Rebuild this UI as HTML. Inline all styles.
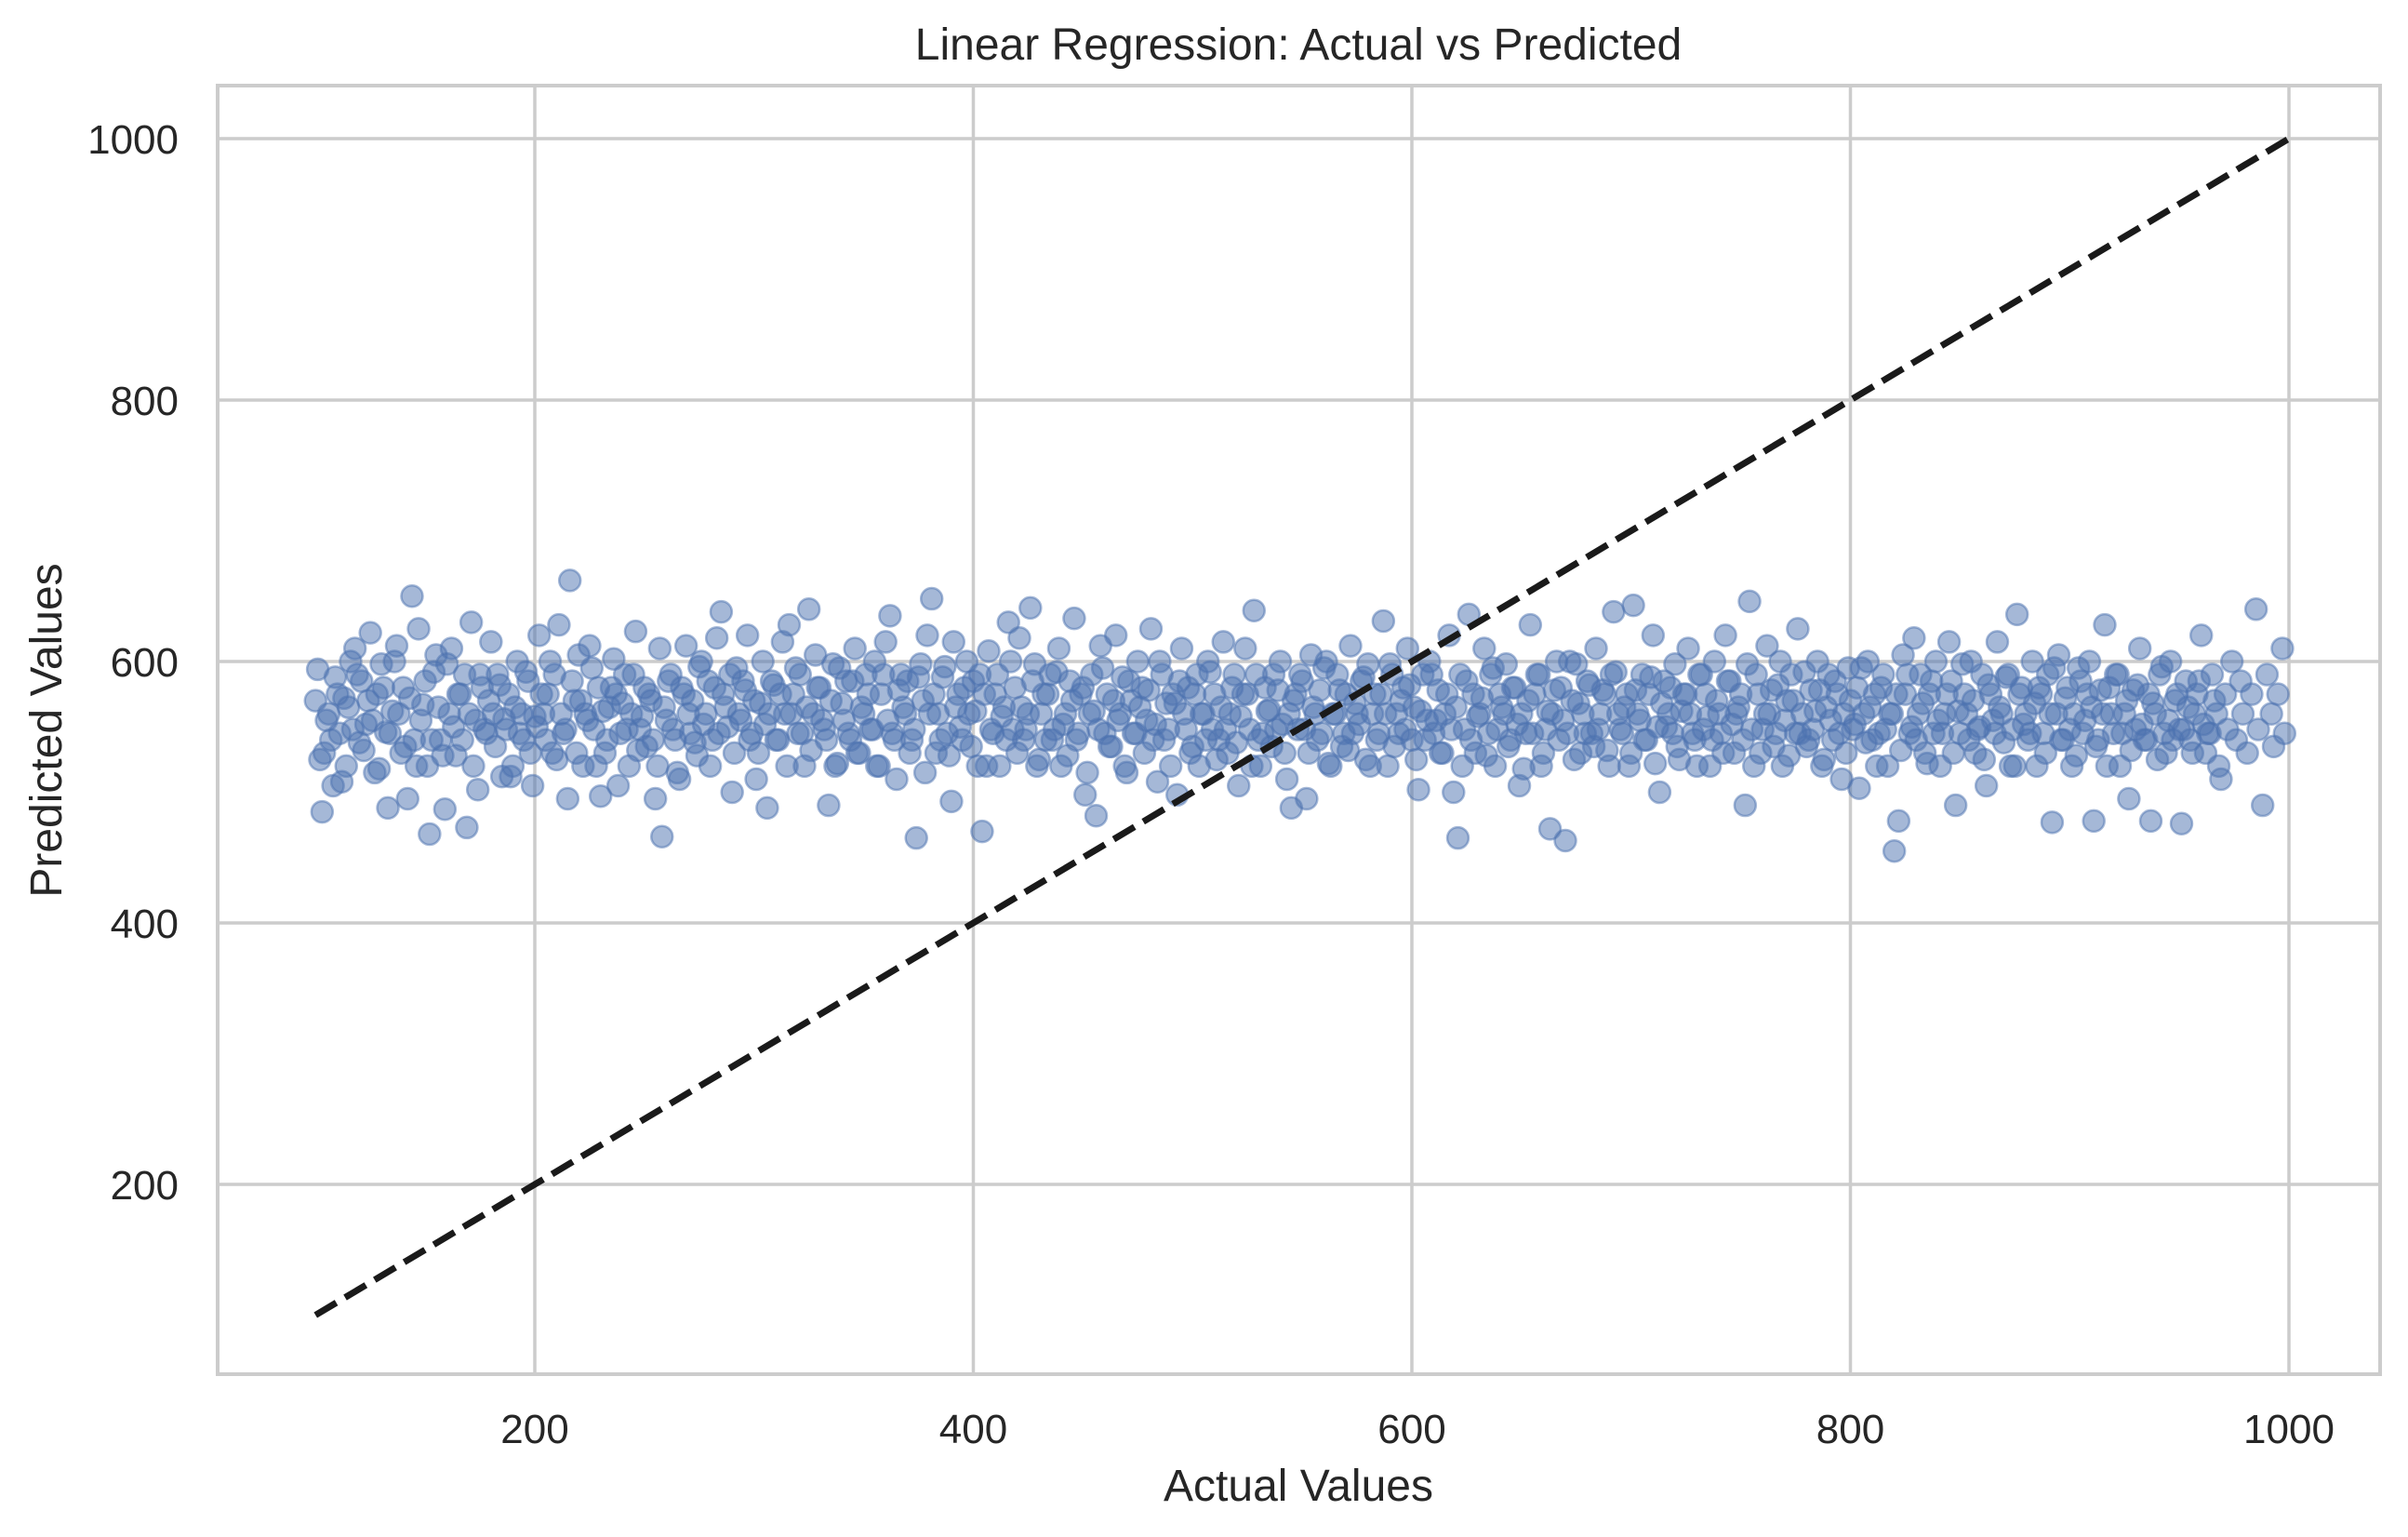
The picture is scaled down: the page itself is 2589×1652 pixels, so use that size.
<!DOCTYPE html>
<html><head><meta charset="utf-8"><title>Linear Regression: Actual vs Predicted</title>
<style>
html,body{margin:0;padding:0;background:#fff;}
svg{display:block;font-family:"Liberation Sans",Arial,sans-serif;}
</style></head>
<body>
<svg id="chart" width="2589" height="1652" viewBox="0 0 2589 1652" xmlns="http://www.w3.org/2000/svg">
<rect x="0" y="0" width="2589" height="1652" fill="#ffffff"/>
<g id="grid"></g>
<g id="points"></g>
<g id="ideal"></g>
<rect x="234" y="92" width="2325" height="1385" fill="none" stroke="#cccccc" stroke-width="4"/>
<g id="xticks"></g>
<g id="yticks"></g>
<text x="1396" y="64" text-anchor="middle" font-size="48" fill="#262626">Linear Regression: Actual vs Predicted</text>
<text x="1396" y="1613" text-anchor="middle" font-size="48" fill="#262626">Actual Values</text>
<text x="0" y="0" transform="translate(66,785) rotate(-90)" text-anchor="middle" font-size="48" fill="#262626">Predicted Values</text>
</svg>
<script>
const xTicks = [200, 400, 600, 800, 1000];
const yTicks = [200, 400, 600, 800, 1000];
const lineStart = [100, 100];
const lineEnd = [1000, 1000];
const actualX = [100,101,103,104,106,108,109,111,113,114,116,118,120,121,123,125,127,128,130,132,133,135,137,139,140,142,144,145,147,149,151,152,154,155,157,159,161,162,164,166,168,169,171,173,174,176,178,180,181,183,185,187,188,190,192,194,195,197,199,201,202,204,206,208,209,211,213,215,216,218,220,222,223,225,227,229,230,232,234,236,237,239,241,243,244,246,248,250,251,253,255,257,258,260,262,264,265,267,269,271,272,274,276,278,279,281,283,285,286,288,290,292,293,295,297,299,300,302,304,306,307,309,311,313,314,316,318,320,321,323,325,327,328,330,332,334,335,337,339,341,342,344,346,348,349,351,353,355,356,358,360,362,363,365,367,369,370,372,374,376,377,379,381,383,384,386,388,390,391,393,395,397,398,400,402,404,405,407,409,411,412,414,416,418,419,421,423,425,426,428,430,432,433,435,437,439,440,442,444,446,447,449,451,453,454,456,458,460,461,463,465,467,468,470,472,474,475,477,479,481,482,484,486,488,489,491,493,495,496,498,500,502,503,505,507,509,510,512,514,516,517,519,521,523,524,526,528,530,531,533,535,537,538,540,542,544,545,547,549,551,552,554,556,558,559,561,563,565,566,568,570,572,573,575,577,579,580,582,584,586,587,589,591,593,594,596,598,600,601,603,605,607,608,610,612,614,615,617,619,621,622,624,626,628,629,631,633,635,636,638,640,642,643,645,647,649,650,652,654,656,657,659,661,663,664,666,668,670,671,673,675,677,678,680,682,684,685,687,689,691,692,694,696,698,699,701,703,705,706,708,710,712,713,715,717,719,720,722,724,726,727,729,731,733,734,736,738,740,741,743,745,747,748,750,752,754,755,757,759,761,762,764,766,768,769,771,773,775,776,778,780,782,783,785,787,789,790,792,794,796,797,799,801,803,804,806,808,810,811,813,815,817,818,820,822,824,825,827,829,831,832,834,836,838,839,841,843,845,846,848,850,852,853,855,857,859,860,862,864,866,867,869,871,873,874,876,878,880,881,883,885,887,888,890,892,894,895,897,899,901,902,904,906,908,909,911,913,915,916,918,920,922,923,925,927,929,930,932,934,936,937,939,941,943,944,946,948,950,951,953,955,957,958,960,962,964,965,967,969,971,972,974,976,978,979,981,983,985,986,988,990,992,993,995,997,998];
const predictedY = [570,594,485,530,560,505,588,545,572,520,600,610,538,585,552,622,515,575,598,546,488,562,612,530,580,495,650,540,625,567,520,468,592,605,540,487,560,610,528,575,590,473,630,555,502,580,545,615,560,590,512,548,575,520,600,560,540,585,505,550,620,560,575,530,590,628,545,495,662,570,605,520,560,612,548,580,497,530,565,602,575,545,590,520,560,623,548,580,535,570,495,610,466,555,590,540,515,580,612,545,570,528,600,560,585,540,618,638,575,550,500,595,560,585,620,545,570,530,600,488,560,582,540,615,560,628,575,545,590,520,640,560,605,580,548,490,570,520,595,555,585,540,610,530,565,590,548,600,520,575,615,635,545,510,590,560,585,540,465,598,570,620,648,530,560,588,545,493,615,575,540,600,560,585,520,470,575,608,545,590,520,565,630,548,580,618,540,560,641,598,525,575,540,590,548,610,520,560,585,633,540,575,498,560,590,482,612,545,575,535,620,560,588,515,570,545,600,580,555,625,540,508,590,568,548,575,498,610,560,580,535,590,520,560,600,548,575,540,615,530,560,590,505,575,610,548,639,540,520,580,563,590,548,600,530,560,488,575,590,548,495,605,560,578,545,600,520,560,590,535,575,612,545,560,585,525,598,560,540,575,631,520,590,560,545,580,610,540,565,502,590,555,600,545,578,530,560,620,500,465,590,548,636,575,530,560,610,545,590,520,575,560,598,540,580,505,560,545,628,575,590,520,548,472,560,600,580,463,545,570,598,530,560,585,545,610,548,578,532,590,638,560,545,575,520,643,560,590,540,575,620,550,500,585,560,545,598,525,575,610,560,540,590,548,575,520,600,560,545,620,585,530,560,575,490,646,548,590,530,560,612,578,545,600,520,570,590,545,625,560,535,578,548,600,520,565,590,540,575,510,560,595,548,580,503,560,600,540,575,545,590,520,560,455,478,605,575,545,618,560,590,530,575,545,600,520,560,615,585,490,545,575,560,600,530,550,590,505,575,545,615,560,588,520,548,636,580,560,540,600,520,575,545,590,477,560,605,540,580,520,560,595,545,575,600,478,540,560,628,580,545,590,520,560,495,578,548,610,540,575,478,560,590,545,530,600,570,548,476,585,540,560,575,620,530,545,590,560,510,575,548,600,540,585,560,530,575,640,548,490,590,560,535,575,610,545,560,590,520,575,600,540,560,585,548,632,575,520,560,590,540,605,548,500,575,560,590,530,610,545,560,578,540,600,520,575,555,630,590,545,560,505,575,540,598,560,548,610,585,530,560,575,545,612,505,560,600,548,520];
const actualX2 = [102,105,107,110,112,115,117,119,122,124,126,129,131,134,136,138,141,143,146,148,150,153,156,158,160,163,165,167,170,172,175,177,179,182,184,186,189,191,193,196,198,200,203,205,207,210,212,214,217,219,221,224,226,228,231,233,235,238,240,242,245,247,249,252,254,256,259,261,263,266,268,270,273,275,277,280,282,284,287,289,291,294,296,298,301,303,305,308,310,312,315,317,319,322,324,326,329,331,333,336,338,340,343,345,347,350,352,354,357,359,361,364,366,368,371,373,375,378,380,382,385,387,389,392,394,396,399,401,403,406,408,410,413,415,417,420,422,424,427,429,431,434,436,438,441,443,445,448,450,452,455,457,459,462,464,466,469,471,473,476,478,480,483,485,487,490,492,494,497,499,501,504,506,508,511,513,515,518,520,522,525,527,529,532,534,536,539,541,543,546,548,550,553,555,557,560,562,564,567,569,571,574,576,578,581,583,585,588,590,592,595,597,599,602,604,606,609,611,613,616,618,620,623,625,627,630,632,634,637,639,641,644,646,648,651,653,655,658,660,662,665,667,669,672,674,676,679,681,683,686,688,690,693,695,697,700,702,704,707,709,711,714,716,718,721,723,725,728,730,732,735,737,739,742,744,746,749,751,753,756,758,760,763,765,767,770,772,774,777,779,781,784,786,788,791,793,795,798,800,802,805,807,809,812,814,816,819,821,823,826,828,830,833,835,837,840,842,844,847,849,851,854,856,858,861,863,865,868,870,872,875,877,879,882,884,886,889,891,893,896,898,900,903,905,907,910,912,914,917,919,921,924,926,928,931,933,935,938,940,942,945,947,949,952,954,956,959,961,963,966,968,970,973,975,977,980,982,984,987,989,991,994,996,999];
const predictedY2 = [525,555,540,575,508,565,548,590,532,570,555,518,580,545,600,560,535,572,520,555,585,540,565,528,598,550,575,540,560,520,590,548,570,535,582,556,512,565,545,592,530,558,575,540,600,525,560,548,585,530,570,555,595,520,562,540,580,505,568,548,590,532,558,575,540,520,565,585,548,510,575,560,538,596,552,520,580,545,565,590,530,555,578,540,510,568,552,585,540,575,520,560,595,545,565,532,580,555,540,598,522,568,545,585,530,560,575,548,520,590,555,540,578,565,530,548,588,515,560,575,540,596,528,565,550,580,535,562,590,520,548,575,558,540,600,530,565,548,585,520,560,575,540,592,552,528,570,545,580,515,562,548,595,535,570,555,520,585,545,565,530,578,552,600,540,520,568,585,548,530,575,560,540,592,525,565,548,580,538,558,575,520,590,545,562,535,578,552,510,570,548,585,530,565,540,595,522,560,578,545,532,568,552,588,520,575,545,560,598,535,570,548,582,525,562,540,590,555,530,575,548,565,520,585,540,558,572,528,595,548,565,535,580,552,518,570,545,590,530,562,578,540,555,600,525,568,545,582,535,560,575,520,592,548,565,530,578,555,540,588,522,568,550,580,535,562,575,545,520,590,558,540,570,530,585,552,565,540,598,520,575,548,560,535,582,555,528,570,545,592,540,562,578,525,555,585,545,530,570,552,595,538,565,520,580,548,560,575,532,590,550,540,568,522,585,555,545,575,530,562,598,540,570,548,525,582,555,565,538,590,520,575,552,545,568,580,530,560,595,540,572,548,528,585,555,565,535,578,520,560,590,545,570,532,582,552,540,568,525,596,555,540,575,548,565,530,585,552,545,570,520];

const X0 = 575, X1 = 2461, Y0 = 1273, Y1 = 149;
function xScale(v){ return X0 + (v - 200) * (X1 - X0) / 800; }
function yScale(v){ return Y0 + (v - 200) * (Y1 - Y0) / 800; }
const NS = "http://www.w3.org/2000/svg";
const grid = document.getElementById('grid');
const xt = document.getElementById('xticks');
const yt = document.getElementById('yticks');
xTicks.forEach(function(t){
  const l = document.createElementNS(NS,'line');
  l.setAttribute('x1', xScale(t)); l.setAttribute('x2', xScale(t));
  l.setAttribute('y1', 92); l.setAttribute('y2', 1477);
  l.setAttribute('stroke', '#cccccc'); l.setAttribute('stroke-width', 3.5);
  
  
  grid.appendChild(l);
  const tx = document.createElementNS(NS,'text');
  tx.setAttribute('x', xScale(t)); tx.setAttribute('y', 1551);
  tx.setAttribute('text-anchor', 'middle'); tx.setAttribute('font-size', 44); tx.setAttribute('fill', '#262626');
  tx.textContent = t;
  
  
  xt.appendChild(tx);
});
yTicks.forEach(function(t){
  const l = document.createElementNS(NS,'line');
  l.setAttribute('y1', yScale(t)); l.setAttribute('y2', yScale(t));
  l.setAttribute('x1', 234); l.setAttribute('x2', 2559);
  l.setAttribute('stroke', '#cccccc'); l.setAttribute('stroke-width', 3.5);
  
  
  grid.appendChild(l);
  const tx = document.createElementNS(NS,'text');
  tx.setAttribute('x', 192); tx.setAttribute('y', yScale(t) + 16);
  tx.setAttribute('text-anchor', 'end'); tx.setAttribute('font-size', 44); tx.setAttribute('fill', '#262626');
  tx.textContent = t;
  
  
  yt.appendChild(tx);
});
const pts = document.getElementById('points');
function drawSeries(xs, ys){
  const n = Math.min(xs.length, ys.length);
  for (let i = 0; i < n; i++){
    const c = document.createElementNS(NS,'circle');
    c.setAttribute('cx', xScale(xs[i])); c.setAttribute('cy', yScale(ys[i]));
    c.setAttribute('r', 11.5);
    c.setAttribute('fill', 'rgba(76,114,176,0.5)');
    c.setAttribute('stroke', 'rgba(76,114,176,0.5)');
    c.setAttribute('stroke-width', 2.5);
    
    
    pts.appendChild(c);
  }
}
drawSeries(actualX, predictedY);
drawSeries(actualX2, predictedY2);
const ln = document.createElementNS(NS,'line');
ln.setAttribute('x1', xScale(lineStart[0])); ln.setAttribute('y1', yScale(lineStart[1]));
ln.setAttribute('x2', xScale(lineEnd[0])); ln.setAttribute('y2', yScale(lineEnd[1]));
ln.setAttribute('stroke', '#1a1a1a'); ln.setAttribute('stroke-width', 7);
ln.setAttribute('stroke-dasharray', '26 11');


document.getElementById('ideal').appendChild(ln);
</script>
</body></html>
